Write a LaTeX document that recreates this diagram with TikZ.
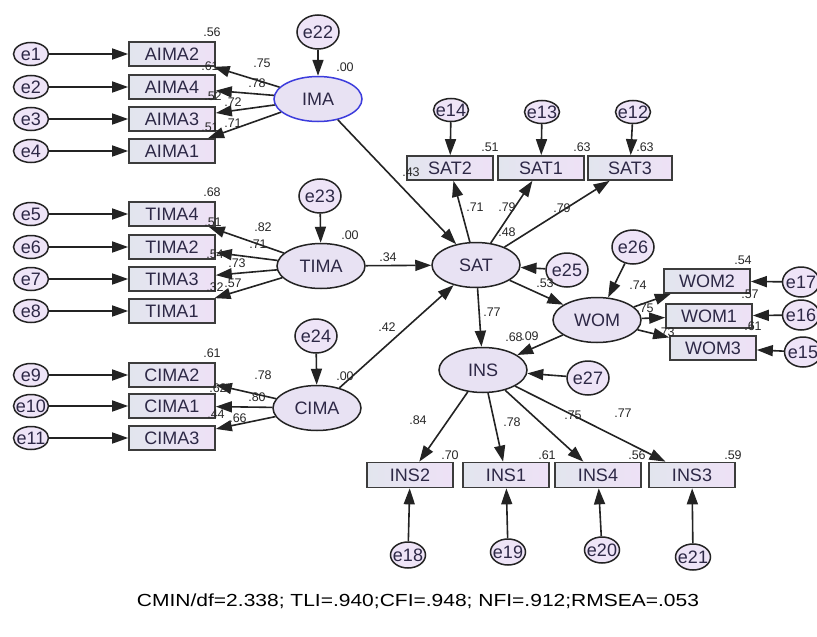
\documentclass[tikz,border=0pt]{standalone}
\usepackage{fontspec}
\setmainfont{Liberation Sans}
\usetikzlibrary{shapes.geometric,arrows.meta}
\definecolor{lineC}{RGB}{35,35,35}
\definecolor{boxline}{RGB}{60,60,60}
\definecolor{boxL}{RGB}{226,229,238}
\definecolor{boxR}{RGB}{238,225,246}
\definecolor{latfill}{RGB}{232,226,243}
\definecolor{errfill}{RGB}{238,228,247}
\definecolor{txt}{RGB}{45,40,70}
\definecolor{lblC}{RGB}{40,40,40}
\definecolor{selblue}{RGB}{60,60,220}
\begin{document}
\begin{tikzpicture}[x=1pt,y=-1pt,
  obs/.style={draw=boxline,line width=1.7pt,minimum width=86pt,minimum height=24pt,inner sep=0pt,
    left color=boxL,right color=boxR,text=txt,font=\fontsize{18}{18}\selectfont},
  lat/.style={ellipse,draw=lineC,line width=1.5pt,minimum width=88pt,minimum height=45pt,inner sep=0pt,
    fill=latfill,text=txt,font=\fontsize{18}{18}\selectfont},
  etxt/.style={inner sep=0pt,text=txt,font=\fontsize{18}{18}\selectfont},
  err/.style={ellipse,draw=lineC,line width=1.5pt,fill=errfill,inner sep=0pt,
    minimum width=35pt,minimum height=23pt,label={[etxt]center:#1}},
  big/.style={minimum width=42pt,minimum height=34pt},
  mid/.style={minimum width=37pt,minimum height=30pt},
  arr/.style={draw=lineC,line width=1.6pt,-{Triangle[length=16pt,width=11pt]}},
  lbl/.style={inner sep=0pt,text=lblC,font=\fontsize{12.5}{12.5}\selectfont}]
\useasboundingbox[fill=white] (0,0) rectangle (817,637);

% ---------- IMA block ----------
\node[lat,draw=selblue] (IMA) at (318,99) {IMA};
\node[err=e22,big] (e22) at (318,32) {};
\foreach \n/\t/\y in {AIMA2/e1/54, AIMA4/e2/87, AIMA3/e3/119, AIMA1/e4/151}{
  \node[obs] (\n) at (172,\y) {\n};
  \node[err=\t] (\t) at (31,\y) {};
  \draw[arr] (\t) -- (\n);
  \draw[arr] (IMA) -- (\n);
}
\draw[arr] (e22) -- (IMA);

% ---------- TIMA block ----------
\node[lat] (TIMA) at (321,266) {TIMA};
\node[err=e23,big] (e23) at (320,196) {};
\foreach \n/\t/\y in {TIMA4/e5/214, TIMA2/e6/247, TIMA3/e7/279, TIMA1/e8/311}{
  \node[obs] (\n) at (172,\y) {\n};
  \node[err=\t] (\t) at (31,\y) {};
  \draw[arr] (\t) -- (\n);
  \draw[arr] (TIMA) -- (\n);
}
\draw[arr] (e23) -- (TIMA);

% ---------- CIMA block ----------
\node[lat] (CIMA) at (317,408) {CIMA};
\node[err=e24,big] (e24) at (316,336) {};
\foreach \n/\t/\y in {CIMA2/e9/375, CIMA1/e10/406, CIMA3/e11/438}{
  \node[obs] (\n) at (172,\y) {\n};
  \node[err=\t] (\t) at (31,\y) {};
  \draw[arr] (\t) -- (\n);
  \draw[arr] (CIMA) -- (\n);
}
\draw[arr] (e24) -- (CIMA);

% ---------- SAT block ----------
\node[lat] (SAT) at (476,265) {SAT};
\node[err=e25,big] (e25) at (567,270) {};
\node[obs] (SAT2) at (450,168) {SAT2};
\node[obs] (SAT1) at (541,168) {SAT1};
\node[obs,minimum width=84pt] (SAT3) at (630,168) {SAT3};
\node[err=e14] (e14) at (451,110) {};
\node[err=e13] (e13) at (542,112) {};
\node[err=e12] (e12) at (633,112) {};
\draw[arr] (e14) -- (SAT2);
\draw[arr] (e13) -- (SAT1);
\draw[arr] (e12) -- (SAT3);
\draw[arr] (SAT) -- (SAT2);
\draw[arr] (SAT) -- (SAT1);
\draw[arr] (SAT) -- (SAT3);
\draw[arr] (e25) -- (SAT);

\draw[arr] (IMA) -- (SAT);
\draw[arr] (TIMA) -- (SAT);
\draw[arr] (CIMA) -- (SAT);

% ---------- WOM block ----------
\node[lat] (WOM) at (597,320) {WOM};
\node[err=e26,big] (e26) at (633,247) {};
\node[obs] (WOM2) at (707,281) {WOM2};
\node[obs] (WOM1) at (709,316) {WOM1};
\node[obs] (WOM3) at (713,348) {WOM3};
\node[err=e17,mid] (e17) at (801,282) {};
\node[err=e16,mid] (e16) at (801,315) {};
\node[err=e15,mid] (e15) at (803,352) {};
\draw[arr] (e26) -- (WOM);
\draw[arr] (WOM) -- (WOM2);
\draw[arr] (WOM) -- (WOM1);
\draw[arr] (WOM) -- (WOM3);
\draw[arr] (e17) -- (WOM2);
\draw[arr] (e16) -- (WOM1);
\draw[arr] (e15) -- (WOM3);
\draw[arr] (SAT) -- (WOM);

% ---------- INS block ----------
\node[lat] (INS) at (483,370) {INS};
\node[err=e27,big] (e27) at (588,378) {};
\draw[arr] (SAT) -- (INS);
\draw[arr] (WOM) -- (INS);
\draw[arr] (e27) -- (INS);
\foreach \n/\t/\x/\ex/\ey in {INS2/e18/410/408/555, INS1/e19/506/508/552, INS4/e20/598/602/550, INS3/e21/692/693/557}{
  \node[obs,minimum height=25pt] (\n) at (\x,475) {\n};
  \node[err=\t,minimum height=26pt] (\t) at (\ex,\ey) {};
  \draw[arr] (\t) -- (\n);
  \draw[arr] (INS) -- (\n);
}

% ---------- estimates ----------
\node[lbl] (l1) at (212,32) {.56};
\node[lbl] (l2) at (262,63) {.75};
\node[lbl] (l3) at (210,66) {.61};
\node[lbl] (l4) at (257,83) {.78};
\node[lbl] (l5) at (213,96) {.52};
\node[lbl] (l6) at (233,102) {.72};
\node[lbl] (l7) at (210,127) {.51};
\node[lbl] (l8) at (233,123) {.71};
\node[lbl] (l9) at (345,67) {.00};

\node[lbl] (l10) at (212,192) {.68};
\node[lbl] (l11) at (263,227) {.82};
\node[lbl] (l12) at (213,222) {.51};
\node[lbl] (l13) at (258,244) {.71};
\node[lbl] (l14) at (215,254) {.54};
\node[lbl] (l15) at (237,263) {.73};
\node[lbl] (l16) at (215,287) {.32};
\node[lbl] (l17) at (233,283) {.57};
\node[lbl] (l18) at (350,235) {.00};
\node[lbl] (l19) at (388,257) {.34};

\node[lbl] (l20) at (212,353) {.61};
\node[lbl] (l21) at (263,375) {.78};
\node[lbl] (l22) at (257,397) {.80};
\node[lbl] (l23) at (218,388) {.62};
\node[lbl] (l24) at (216,414) {.44};
\node[lbl] (l25) at (238,418) {.66};
\node[lbl] (l26) at (345,376) {.00};
\node[lbl] (l27) at (387,327) {.42};

\node[lbl] (l28) at (490,147) {.51};
\node[lbl] (l29) at (582,147) {.63};
\node[lbl] (l30) at (645,147) {.63};
\node[lbl] (l31) at (411,172) {.43};
\node[lbl] (l32) at (475,207) {.71};
\node[lbl] (l33) at (507,207) {.79};
\node[lbl] (l34) at (562,208) {.79};
\node[lbl] (l35) at (507,232) {.48};
\node[lbl] (l36) at (545,283) {.53};
\node[lbl] (l37) at (492,312) {.77};

\node[lbl] (l38) at (638,285) {.74};
\node[lbl] (l39) at (645,308) {.75};
\node[lbl] (l40) at (666,332) {.73};
\node[lbl] (l41) at (743,260) {.54};
\node[lbl] (l42) at (750,294) {.57};
\node[lbl] (l43) at (753,326) {.61};
\node[lbl] (l44) at (514,337) {.68};
\node[lbl] (l45) at (530,336) {.09};

\node[lbl] (l46) at (418,420) {.84};
\node[lbl] (l47) at (512,422) {.78};
\node[lbl] (l48) at (573,415) {.75};
\node[lbl] (l49) at (623,413) {.77};
\node[lbl] (l50) at (450,455) {.70};
\node[lbl] (l51) at (547,455) {.61};
\node[lbl] (l52) at (637,455) {.56};
\node[lbl] (l53) at (733,455) {.59};

\node[inner sep=0pt,text=black,font=\fontsize{17.5}{17.5}\selectfont] (fit) at (418,601)
  {\scalebox{1.2}[1]{CMIN/df=2.338; TLI=.940;CFI=.948; NFI=.912;RMSEA=.053}};
\end{tikzpicture}
\end{document}
